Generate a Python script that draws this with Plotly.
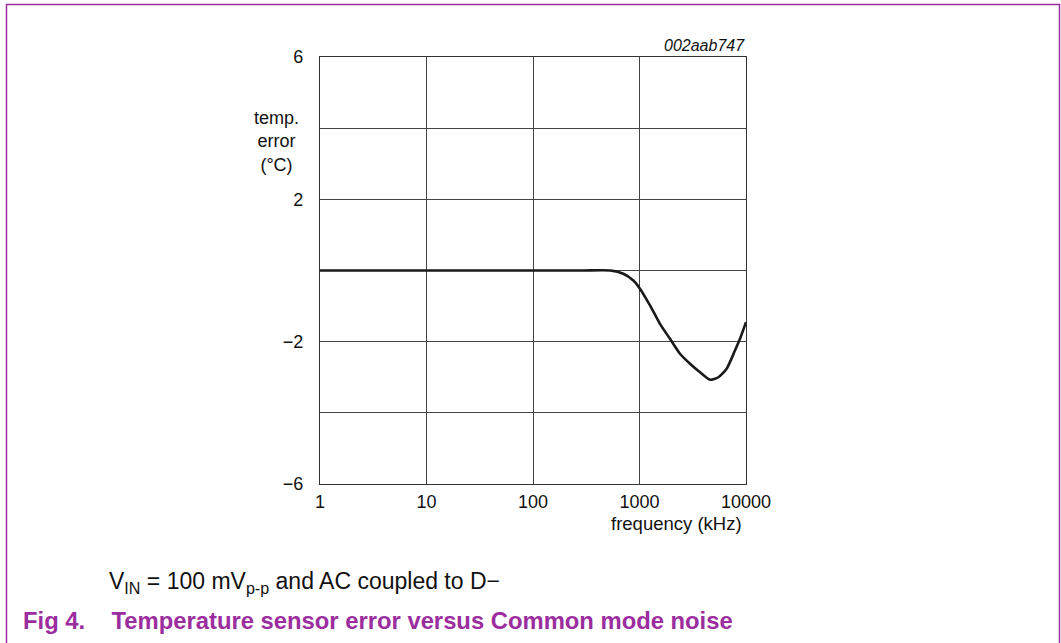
import plotly.graph_objects as go

# Data
freq_khz = [1, 10, 100, 300, 530, 705, 875, 1010, 1255, 1557, 1933, 2400, 2980, 3700, 4590, 5500, 6580, 7880, 8780, 10000]
temp_err = [0.0, 0.0, 0.0, 0.0, 0.0, -0.09, -0.28, -0.51, -0.98, -1.50, -1.92, -2.34, -2.62, -2.86, -3.07, -3.00, -2.76, -2.25, -1.92, -1.45]

y_tickvals = [6, 2, -2, -6]
y_ticktext = ["6", "2", "\u22122", "\u22126"]
y_minor_grid = [4, 0, -4]
x_tickvals = [1, 10, 100, 1000, 10000]
x_ticktext = ["1", "10", "100", "1000", "10000"]

W, H = 1061, 643
L, R, T, B = 320, 746, 57, 484  # plot area in px


def px(xp):
    return (xp - L) / (R - L)


def py(yp):
    return (B - yp) / (B - T)


FONT = "Liberation Sans, Arial, sans-serif"
PURPLE = "#9b2d9e"

fig = go.Figure()
fig.add_trace(go.Scatter(x=freq_khz, y=temp_err, mode="lines",
                         line=dict(color="#1a1a1a", width=2.6, shape="spline", smoothing=0.6),
                         showlegend=False, hoverinfo="skip"))

fig.update_layout(
    width=W, height=H,
    margin=dict(l=L, r=W - R, t=T, b=H - B, pad=0),
    paper_bgcolor="white", plot_bgcolor="white",
    font=dict(family=FONT, size=18, color="#111"),
    xaxis=dict(type="log", range=[0, 4], tickvals=x_tickvals, ticktext=x_ticktext,
               showgrid=True, gridcolor="#444", gridwidth=1,
               showline=True, linecolor="#333", linewidth=1.2, mirror=True,
               ticks="", zeroline=False, tickfont=dict(size=18), ticklabelstandoff=1),
    yaxis=dict(range=[-6, 6], tickvals=y_tickvals, ticktext=y_ticktext,
               showgrid=True, gridcolor="#444", gridwidth=1,
               minor=dict(tickvals=y_minor_grid, showgrid=True, gridcolor="#444", gridwidth=1, ticks=""),
               showline=True, linecolor="#333", linewidth=1.2, mirror=True,
               ticks="", zeroline=False, tickfont=dict(size=18), ticklabelstandoff=12),
)

annotations = [
    dict(x=px(276), y=py(141), xref="paper", yref="paper", text="temp.<br>error<br>(°C)",
         showarrow=False, xanchor="center", yanchor="middle", align="center",
         font=dict(size=18, family=FONT)),
    dict(x=px(676), y=py(523), xref="paper", yref="paper", text="frequency (kHz)",
         showarrow=False, xanchor="center", yanchor="middle", font=dict(size=18.5, family=FONT)),
    dict(x=px(747), y=py(46), xref="paper", yref="paper", text="<i>002aab747</i>",
         showarrow=False, xanchor="right", yanchor="middle", font=dict(size=16, family=FONT)),
    dict(x=px(107), y=py(582), xref="paper", yref="paper",
         text="V<sub>IN</sub> = 100 mV<sub>p-p</sub> and AC coupled to D\u2212",
         showarrow=False, xanchor="left", yanchor="middle", font=dict(size=23, family=FONT)),
    dict(x=px(21), y=py(620), xref="paper", yref="paper",
         text="<b>Fig 4.    Temperature sensor error versus Common mode noise</b>",
         showarrow=False, xanchor="left", yanchor="middle",
         font=dict(size=23.8, family=FONT, color=PURPLE)),
]
fig.update_layout(annotations=annotations)

fig.update_layout(shapes=[
    dict(type="path", xref="paper", yref="paper",
         path=f"M {px(6.5)} {py(660)} L {px(6.5)} {py(4.5)} L {px(1059.5)} {py(4.5)} L {px(1059.5)} {py(660)}",
         line=dict(color=PURPLE, width=1.5)),
])

fig.write_html("out.html", config={"displayModeBar": False},
               post_script="document.body.style.margin='0';document.body.style.overflow='hidden';")
